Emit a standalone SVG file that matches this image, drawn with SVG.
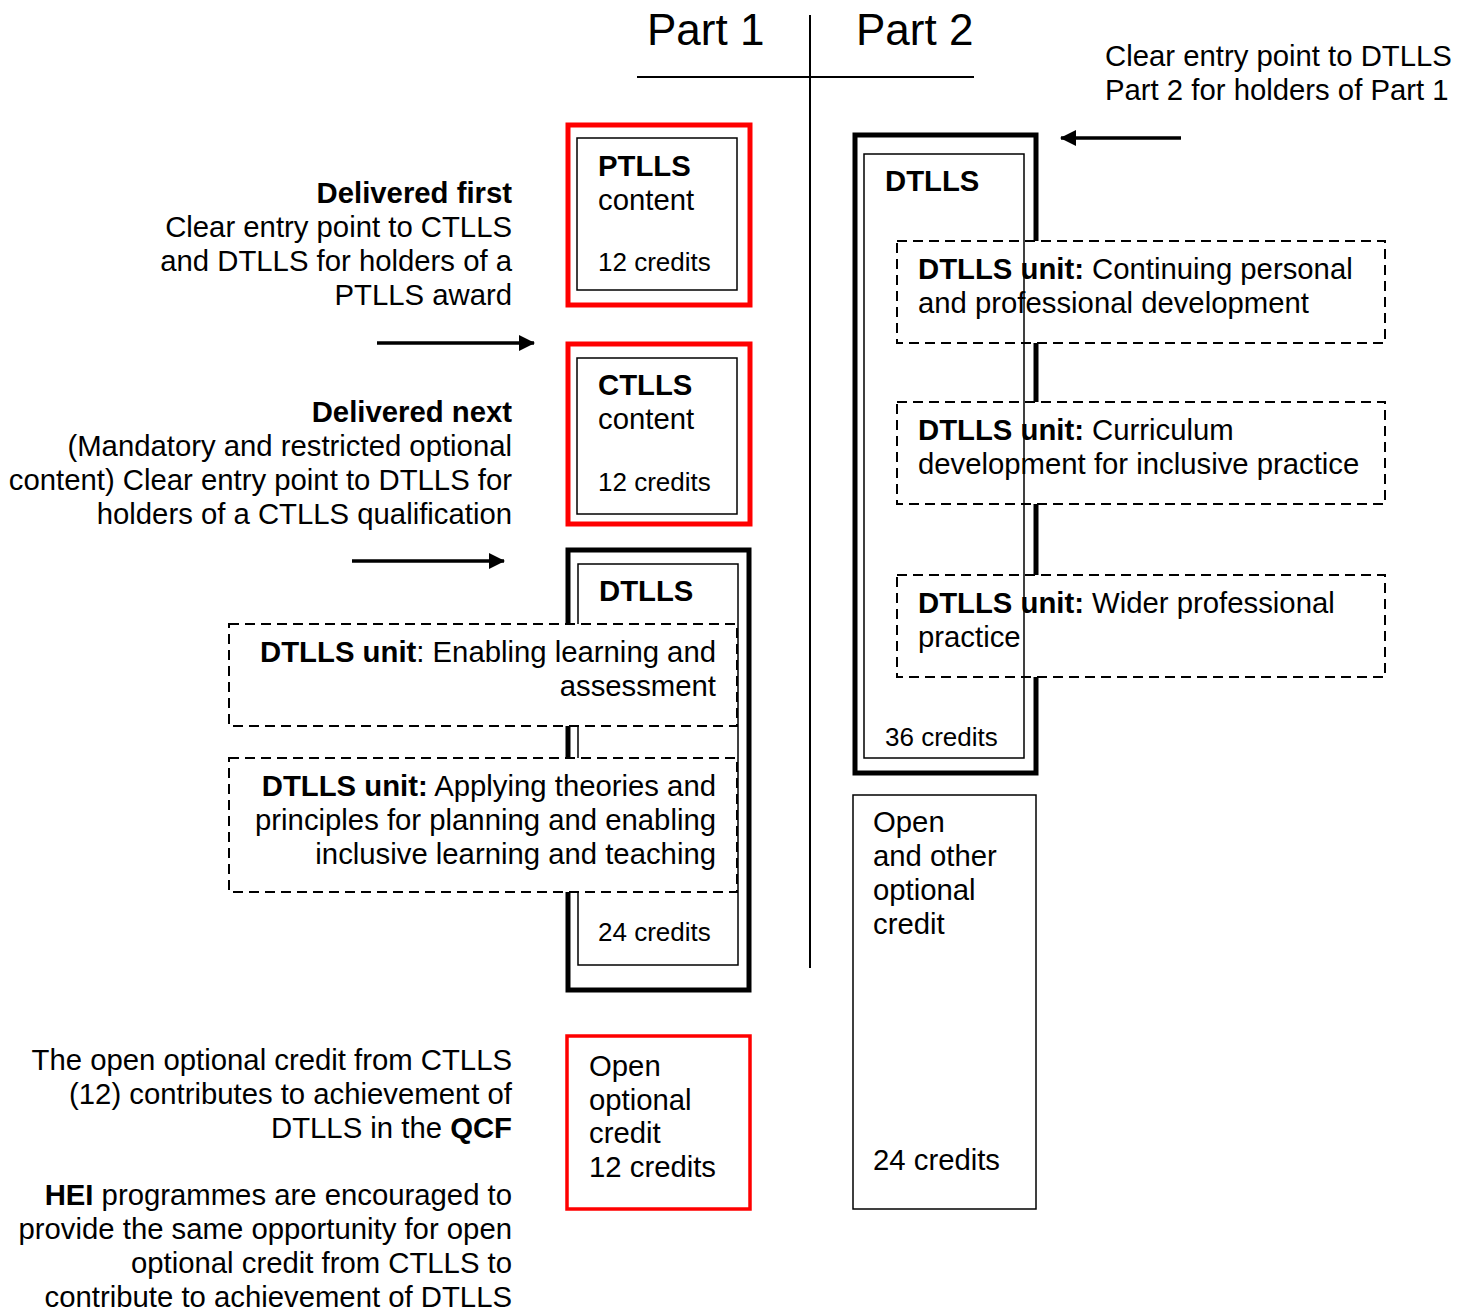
<svg xmlns="http://www.w3.org/2000/svg" width="1469" height="1312" viewBox="0 0 1469 1312">
<defs>
<style>
text{font-family:"Liberation Sans",Arial,sans-serif;fill:#000;}
.t29{font-size:29.3px;}
.t26{font-size:26px;}
.b{font-weight:bold;}
.r{text-anchor:end;}
.thick{fill:none;stroke:#000;stroke-width:5;}
.thin{fill:none;stroke:#000;stroke-width:1.5;}
.red{fill:#fff;stroke:#ff0000;stroke-width:5;}
.dash{fill:#fff;stroke:#000;stroke-width:2;stroke-dasharray:10,6;}
.line{stroke:#000;stroke-width:2;fill:none;}
.arrow{stroke:#000;stroke-width:3.5;fill:none;}
</style>
<marker id="ah2" markerWidth="16" markerHeight="16" refX="15" refY="8" orient="auto" markerUnits="userSpaceOnUse">
<path d="M0,0 L16,8 L0,16 Z" fill="#000"/>
</marker>
</defs>
<rect width="1469" height="1312" fill="#fff"/>

<g id="header">
<text x="647" y="45" style="font-size:44px">Part 1</text>
<text x="856" y="45" style="font-size:44px">Part 2</text>
<line class="line" x1="810" y1="15" x2="810" y2="968"/>
<line class="line" x1="637" y1="77" x2="974" y2="77"/>
</g>

<g id="connectors">
<line class="arrow" x1="377" y1="343" x2="534" y2="343" marker-end="url(#ah2)"/>
<line class="arrow" x1="352" y1="561" x2="504" y2="561" marker-end="url(#ah2)"/>
<line class="arrow" x1="1181" y1="138" x2="1061" y2="138" marker-end="url(#ah2)"/>
</g>

<g id="note-delivered-first">
<text class="t29 b r" x="512" y="203">Delivered first</text>
<text class="t29 r" x="512" y="237">Clear entry point to CTLLS</text>
<text class="t29 r" x="512" y="271">and DTLLS for holders of a</text>
<text class="t29 r" x="512" y="305">PTLLS award</text>
</g>

<g id="note-delivered-next">
<text class="t29 b r" x="512" y="422">Delivered next</text>
<text class="t29 r" x="512" y="456">(Mandatory and restricted optional</text>
<text class="t29 r" x="512" y="490">content) Clear entry point to DTLLS for</text>
<text class="t29 r" x="512" y="524">holders of a CTLLS qualification</text>
</g>

<g id="note-part2">
<text class="t29" x="1105" y="66">Clear entry point to DTLLS</text>
<text class="t29" x="1105" y="100">Part 2 for holders of Part 1</text>
</g>

<g id="note-bottom">
<text class="t29 r" x="512" y="1070">The open optional credit from CTLLS</text>
<text class="t29 r" x="512" y="1104">(12) contributes to achievement of</text>
<text class="t29 r" x="512" y="1138">DTLLS in the <tspan class="b">QCF</tspan></text>
<text class="t29 r" x="512" y="1205"><tspan class="b">HEI</tspan> programmes are encouraged to</text>
<text class="t29 r" x="512" y="1239">provide the same opportunity for open</text>
<text class="t29 r" x="512" y="1273">optional credit from CTLLS to</text>
<text class="t29 r" x="512" y="1307">contribute to achievement of DTLLS</text>
</g>

<g id="ptlls">
<rect class="red" x="568" y="125" width="182" height="180"/>
<rect class="thin" x="577" y="138" width="160" height="152"/>
<text class="t29 b" x="598" y="176">PTLLS</text>
<text class="t29" x="598" y="210">content</text>
<text class="t26" x="598" y="271">12 credits</text>
</g>

<g id="ctlls">
<rect class="red" x="568" y="344" width="182" height="180"/>
<rect class="thin" x="577" y="358" width="160" height="156"/>
<text class="t29 b" x="598" y="395">CTLLS</text>
<text class="t29" x="598" y="429">content</text>
<text class="t26" x="598" y="491">12 credits</text>
</g>

<g id="dtlls-part1">
<rect class="thick" x="568" y="550" width="181" height="440"/>
<rect class="thin" x="578" y="564" width="160" height="401"/>
<text class="t29 b" x="599" y="601">DTLLS</text>
<text class="t26" x="598" y="941">24 credits</text>
</g>

<g id="unit-enabling">
<rect class="dash" x="229" y="624" width="508" height="102"/>
<text class="t29 r" x="716" y="662"><tspan class="b">DTLLS unit</tspan>: Enabling learning and</text>
<text class="t29 r" x="716" y="696">assessment</text>
</g>

<g id="unit-applying">
<rect class="dash" x="229" y="758" width="508" height="134"/>
<text class="t29 r" x="716" y="796"><tspan class="b">DTLLS unit:</tspan> Applying theories and</text>
<text class="t29 r" x="716" y="830">principles for planning and enabling</text>
<text class="t29 r" x="716" y="864">inclusive learning and teaching</text>
</g>

<g id="open-optional-12">
<rect x="567" y="1036" width="183" height="173" fill="#fff" stroke="#ff0000" stroke-width="3.5"/>
<text class="t29" x="589" y="1076">Open</text>
<text class="t29" x="589" y="1110">optional</text>
<text class="t29" x="589" y="1143">credit</text>
<text class="t29" x="589" y="1177">12 credits</text>
</g>

<g id="dtlls-part2">
<rect class="thick" x="855" y="135" width="181" height="638"/>
<text class="t29 b" x="885" y="191">DTLLS</text>
<text class="t26" x="885" y="746">36 credits</text>
</g>

<g id="unit-cpd">
<rect class="dash" x="897" y="241" width="488" height="102"/>
<text class="t29" x="918" y="279"><tspan class="b">DTLLS unit:</tspan> Continuing personal</text>
<text class="t29" x="918" y="313">and professional development</text>
</g>

<g id="unit-curriculum">
<rect class="dash" x="897" y="402" width="488" height="102"/>
<text class="t29" x="918" y="440"><tspan class="b">DTLLS unit:</tspan> Curriculum</text>
<text class="t29" x="918" y="474">development for inclusive practice</text>
</g>

<g id="unit-wider">
<rect class="dash" x="897" y="575" width="488" height="102"/>
<text class="t29" x="918" y="613"><tspan class="b">DTLLS unit:</tspan> Wider professional</text>
<text class="t29" x="918" y="647">practice</text>
</g>

<g id="dtlls-part2-inner">
<rect class="thin" x="864" y="154" width="160" height="604"/>
</g>

<g id="open-other-24">
<rect x="853" y="795" width="183" height="414" fill="#fff" stroke="#000" stroke-width="1.5"/>
<text class="t29" x="873" y="832">Open</text>
<text class="t29" x="873" y="866">and other</text>
<text class="t29" x="873" y="900">optional</text>
<text class="t29" x="873" y="934">credit</text>
<text class="t29" x="873" y="1170">24 credits</text>
</g>
</svg>
